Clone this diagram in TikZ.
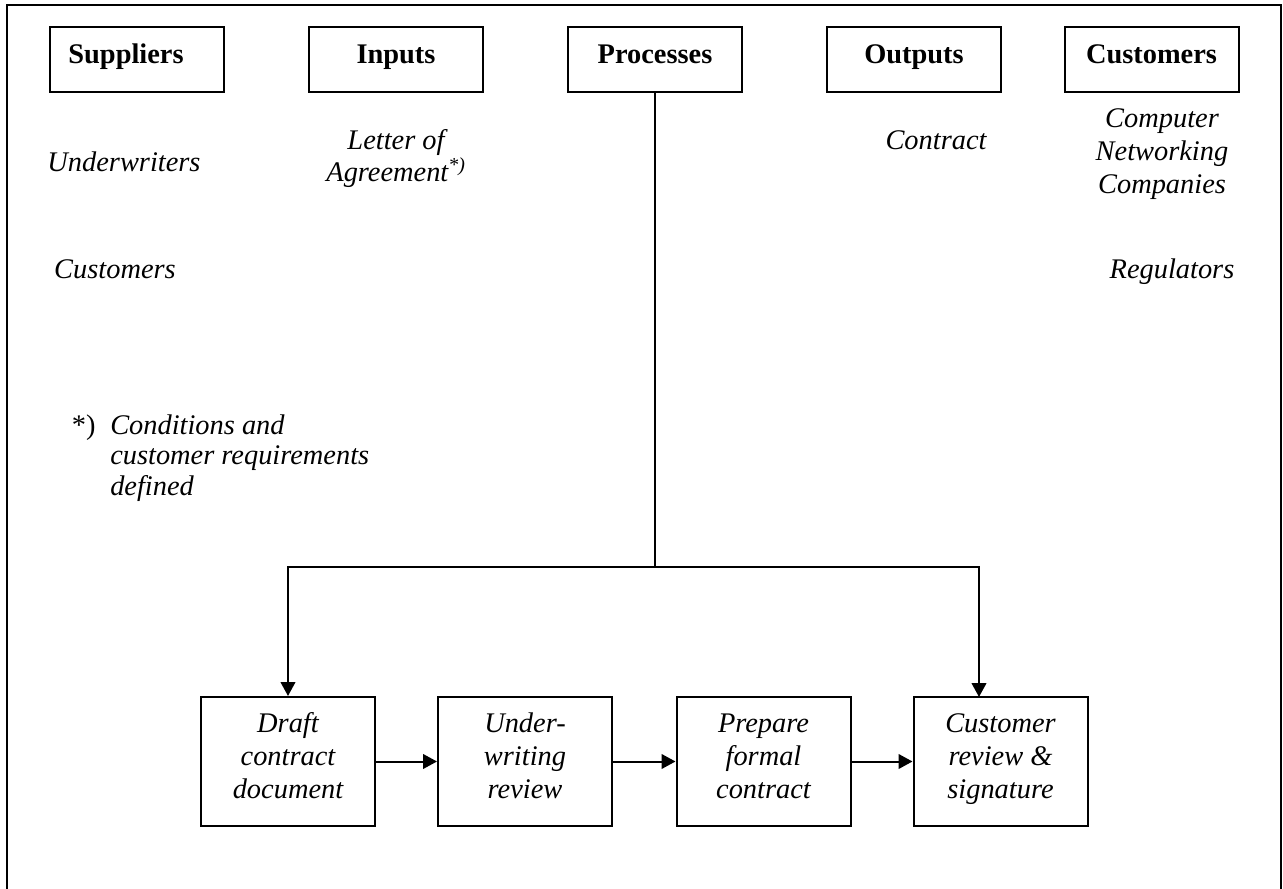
\documentclass[tikz,border=0pt]{standalone}
\usepackage{fontspec}
\setmainfont{Liberation Serif}
\usetikzlibrary{arrows.meta}
% invisible rules fixing the top of the first line and the bottom of the last line
\newcommand\toprule{\rule{0pt}{16pt}}
\newcommand\botrule{\rule[-10pt]{0pt}{10pt}}
\begin{document}
\begin{tikzpicture}[x=0.75pt,y=-0.75pt,
  every node/.style={inner sep=0pt},
  head/.style={draw, line width=1.5pt, minimum width=130.5pt,
    text height=27pt, text depth=21.75pt,
    font=\fontsize{21.3}{24.5}\selectfont\bfseries},
  stepbox/.style={draw, line width=1.5pt, minimum width=130.5pt,
    minimum height=96.75pt, align=center,
    font=\fontsize{21.3}{24.5}\selectfont\itshape},
  note/.style={font=\fontsize{21.3}{24.5}\selectfont\itshape},
  link/.style={line width=1.5pt},
  arrow/.style={link, -{Triangle[length=10.5pt,width=11pt]}}]
\useasboundingbox (0,0) rectangle (1283,889);

% outer frame, open at the bottom
\draw[line width=1.8pt] (7,889) -- (7,5) -- (1281,5) -- (1281,889);

% column headings
\node[head] (sup)  at (136.5,59.5) {Suppliers\hspace*{15.75pt}};
\node[head] (inp)  at (396,59.5)   {Inputs};
\node[head] (proc) at (655,59.5)   {Processes};
\node[head] (outp) at (914,59.5)   {Outputs};
\node[head] (cust) at (1151.5,59.5) {Customers};

% column entries
\node[note, anchor=base] (uw)    at (124,171) {Underwriters};
\node[note, anchor=base] (custs) at (115,278) {Customers};
\node[note, align=center] (loa)  at (396,161.5)
  {\toprule Letter of\\Agreement\textsuperscript{*)}\botrule};
\node[note, anchor=base] (contract) at (936,149) {Contract};
\node[note, align=center] (cnc) at (1162,156.5)
  {\toprule Computer\\Networking\\Companies\botrule};
\node[note, anchor=base] (reg) at (1172,278) {Regulators};

% footnote
\node[note, align=left, anchor=north west,
      font=\fontsize{21.3}{23}\selectfont\itshape] (fn) at (110,412.7)
  {\toprule\llap{\upshape*)\hspace{11pt}}Conditions and\\customer requirements\\defined};

% process steps
\node[stepbox] (draft) at (288,761.5)
  {\toprule Draft\\contract\\document\botrule};
\node[stepbox] (uwr) at (525,761.5)
  {\toprule Under-\\writing\\review\botrule};
\node[stepbox] (prep) at (763.5,761.5)
  {\toprule Prepare\\formal\\contract\botrule};
\node[stepbox] (csig) at (1000.5,761.5)
  {\toprule Customer\\review \&\\signature\botrule};

% connectors
\coordinate (split) at (655,567);
\coordinate (sigin) at (979,697);
\draw[link] (proc.south) -- (split);
\draw[arrow] (split) -| (draft.north);
\draw[arrow] (split) -| (sigin);
\draw[arrow] (draft.east) -- (uwr.west);
\draw[arrow] (uwr.east) -- (prep.west);
\draw[arrow] (prep.east) -- (csig.west);
\end{tikzpicture}
\end{document}
